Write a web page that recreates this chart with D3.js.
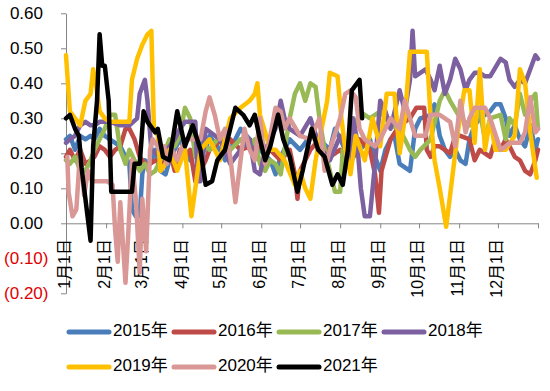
<!DOCTYPE html>
<html>
<head>
<meta charset="utf-8">
<script src="https://cdn.jsdelivr.net/npm/d3@7"></script>
<style>
  body { margin: 0; background: #fff; }
  svg text { font-family: "Liberation Sans", "Noto Sans CJK SC", sans-serif; }
</style>
</head>
<body>
<div id="chart"></div>
<script>
// series names and colours
var years = ["2015年", "2016年", "2017年", "2018年", "2019年", "2020年", "2021年"];
var colors = ["#4A7EBB", "#BE4B48", "#98B954", "#7D60A0", "#FFC000", "#D99795", "#000000"];

// x axis: day of year where each month starts, and its label
var monthDays = [0, 31, 59, 90, 120, 151, 181, 212, 243, 273, 304, 334];
var monthLabels = ["1月1日", "2月1日", "3月1日", "4月1日", "5月1日", "6月1日",
    "7月1日", "8月1日", "9月1日", "10月1日", "11月1日", "12月1日"];
var yTicks = [-0.2, -0.1, 0, 0.1, 0.2, 0.3, 0.4, 0.5, 0.6];

// [day of year, value]
var s2015 = [[0,0.24],[3,0.25],[7,0.21],[11,0.25],[15,0.24],[19,0.25],[22,0.24],[26,0.27],[30,0.25],[34,0.24],
    [42,0.22],[46,0.19],[49,0.17],[51,0.04],[54,0.02],[57,0.02],[59,0.14],[61,0.18],[65,0.17],[69,0.21],
    [73,0.15],[77,0.14],[80,0.18],[84,0.21],[88,0.24],[92,0.21],[96,0.18],[100,0.21],[104,0.24],[108,0.21],
    [111,0.25],[119,0.21],[123,0.18],[127,0.21],[135,0.27],[142,0.24],[150,0.21],[158,0.18],[162,0.14],[166,0.19],
    [173,0.24],[181,0.21],[189,0.25],[196,0.24],[204,0.21],[208,0.27],[212,0.24],[220,0.18],[227,0.21],[235,0.24],
    [239,0.19],[243,0.15],[247,0.21],[251,0.24],[254,0.25],[258,0.17],[262,0.16],[266,0.15],[270,0.27],[274,0.30],
    [282,0.31],[285,0.34],[289,0.25],[293,0.21],[297,0.19],[301,0.21],[305,0.18],[309,0.17],[312,0.24],[316,0.28],
    [320,0.30],[328,0.32],[332,0.34],[336,0.34],[340,0.30],[343,0.25],[347,0.28],[351,0.24],[355,0.22],[359,0.28],
    [363,0.21],[365,0.24]];

var s2016 = [[0,0.19],[3,0.21],[7,0.18],[11,0.21],[15,0.17],[19,0.18],[22,0.19],[26,0.22],[30,0.21],[34,0.19],
    [38,0.21],[42,0.22],[46,0.27],[49,0.27],[53,0.24],[57,0.19],[61,0.17],[65,0.17],[69,0.18],[73,0.17],
    [77,0.19],[80,0.21],[84,0.15],[88,0.21],[92,0.19],[96,0.21],[100,0.12],[104,0.15],[108,0.18],[111,0.21],
    [115,0.22],[119,0.24],[123,0.21],[127,0.24],[135,0.21],[142,0.22],[146,0.21],[150,0.22],[158,0.21],[166,0.18],
    [173,0.21],[177,0.14],[179,0.07],[181,0.15],[189,0.21],[196,0.24],[204,0.19],[212,0.21],[220,0.17],[227,0.24],
    [235,0.21],[239,0.14],[242,0.03],[244,0.15],[251,0.24],[258,0.28],[266,0.30],[271,0.33],[277,0.33],[279,0.21],
    [282,0.19],[285,0.22],[289,0.22],[293,0.21],[297,0.20],[301,0.25],[305,0.25],[312,0.24],[316,0.18],[320,0.21],
    [328,0.19],[332,0.24],[336,0.21],[340,0.24],[343,0.22],[347,0.19],[351,0.18],[355,0.15],[359,0.14],[363,0.18],
    [365,0.21]];

var s2017 = [[0,0.18],[3,0.17],[7,0.19],[11,0.15],[15,0.15],[19,0.18],[22,0.21],[26,0.24],[30,0.27],[34,0.31],
    [38,0.31],[42,0.21],[46,0.17],[49,0.21],[53,0.18],[57,0.15],[61,0.17],[65,0.14],[69,0.15],[73,0.18],
    [77,0.21],[80,0.24],[84,0.22],[88,0.25],[92,0.33],[96,0.30],[100,0.19],[104,0.18],[108,0.22],[111,0.21],
    [119,0.25],[127,0.21],[135,0.24],[142,0.22],[146,0.24],[150,0.17],[154,0.15],[158,0.18],[162,0.17],[166,0.14],
    [169,0.21],[173,0.30],[177,0.37],[181,0.40],[185,0.35],[189,0.40],[193,0.39],[196,0.30],[200,0.21],[204,0.15],
    [208,0.09],[212,0.09],[214,0.21],[220,0.24],[224,0.28],[227,0.32],[235,0.30],[243,0.32],[251,0.28],[258,0.27],
    [266,0.21],[270,0.19],[274,0.21],[282,0.24],[289,0.35],[293,0.38],[297,0.35],[305,0.30],[312,0.28],[320,0.32],
    [324,0.24],[328,0.30],[336,0.31],[340,0.24],[343,0.30],[347,0.28],[351,0.37],[355,0.31],[359,0.35],[363,0.37],
    [365,0.27]];

var s2018 = [[0,0.23],[3,0.24],[7,0.25],[11,0.28],[15,0.29],[19,0.28],[22,0.28],[26,0.29],[34,0.29],[42,0.28],
    [49,0.28],[55,0.30],[57,0.37],[61,0.41],[63,0.35],[66,0.21],[73,0.19],[77,0.21],[80,0.22],[84,0.24],
    [88,0.27],[92,0.29],[100,0.29],[102,0.12],[104,0.12],[108,0.27],[119,0.24],[127,0.17],[135,0.21],[142,0.24],
    [146,0.15],[150,0.14],[154,0.21],[162,0.27],[166,0.35],[169,0.30],[173,0.27],[181,0.25],[189,0.30],[196,0.22],
    [204,0.18],[212,0.25],[216,0.21],[220,0.15],[222,0.30],[225,0.24],[228,0.10],[231,0.02],[235,0.02],[239,0.17],
    [243,0.35],[247,0.32],[251,0.27],[258,0.38],[262,0.32],[266,0.41],[268,0.55],[270,0.42],[278,0.44],[282,0.41],
    [285,0.38],[289,0.45],[293,0.37],[297,0.41],[301,0.47],[305,0.44],[309,0.38],[312,0.41],[316,0.43],[320,0.43],
    [324,0.42],[328,0.42],[336,0.47],[340,0.46],[343,0.41],[347,0.39],[351,0.41],[355,0.40],[359,0.44],[363,0.48],
    [365,0.47]];

var s2019 = [[0,0.48],[3,0.32],[7,0.30],[11,0.28],[15,0.35],[19,0.37],[21,0.44],[23,0.40],[26,0.32],[30,0.30],
    [34,0.29],[49,0.29],[51,0.41],[55,0.47],[59,0.51],[63,0.54],[66,0.55],[68,0.27],[71,0.25],[73,0.15],
    [77,0.17],[80,0.21],[86,0.15],[92,0.21],[97,0.02],[100,0.10],[104,0.21],[111,0.24],[119,0.18],[127,0.30],
    [135,0.33],[142,0.35],[146,0.37],[148,0.40],[150,0.31],[158,0.21],[162,0.21],[169,0.18],[177,0.11],[181,0.15],
    [185,0.10],[189,0.07],[193,0.18],[196,0.24],[202,0.35],[204,0.43],[210,0.42],[213,0.30],[216,0.21],[220,0.14],
    [224,0.25],[231,0.18],[237,0.30],[243,0.22],[248,0.37],[254,0.37],[258,0.20],[262,0.30],[266,0.49],[270,0.49],
    [279,0.49],[282,0.30],[285,0.18],[289,0.10],[294,-0.01],[297,0.08],[303,0.26],[308,0.38],[312,0.38],[316,0.23],
    [320,0.44],[324,0.21],[328,0.30],[332,0.21],[340,0.21],[347,0.25],[351,0.44],[355,0.40],[359,0.26],[364,0.13]];

var s2020 = [[1,0.19],[2,0.09],[5,0.02],[8,0.04],[11,0.21],[14,0.08],[17,0.15],[20,0.12],[26,0.12],[32,0.12],
    [36,0.11],[38,-0.02],[40,-0.11],[42,0.06],[46,-0.17],[48,-0.04],[51,0.18],[54,0.07],[57,-0.14],[59,0.07],
    [62,-0.08],[65,0.21],[67,0.24],[73,0.21],[76,0.22],[78,0.17],[82,0.21],[86,0.18],[92,0.24],[96,0.24],
    [104,0.24],[108,0.32],[111,0.36],[115,0.31],[119,0.24],[123,0.27],[127,0.19],[131,0.06],[135,0.18],[138,0.27],
    [142,0.21],[146,0.18],[150,0.30],[154,0.17],[162,0.33],[166,0.32],[169,0.27],[173,0.30],[181,0.25],[189,0.24],
    [196,0.30],[200,0.15],[204,0.21],[212,0.30],[216,0.37],[220,0.38],[224,0.36],[227,0.27],[231,0.24],[235,0.23],
    [239,0.22],[243,0.24],[251,0.30],[258,0.27],[262,0.35],[266,0.30],[270,0.25],[274,0.25],[278,0.25],[282,0.31],
    [289,0.31],[293,0.30],[297,0.29],[301,0.22],[305,0.35],[309,0.26],[312,0.30],[316,0.33],[324,0.33],[328,0.30],
    [336,0.21],[340,0.22],[343,0.23],[351,0.23],[355,0.26],[359,0.36],[363,0.26],[365,0.27]];

var s2021 = [[0,0.30],[3,0.31],[7,0.27],[10,0.25],[12,0.16],[15,0.07],[19,-0.05],[21,0.22],[24,0.35],[26,0.54],
    [28,0.45],[30,0.45],[33,0.35],[35,0.09],[51,0.09],[53,0.17],[57,0.17],[60,0.32],[63,0.29],[69,0.26],
    [71,0.27],[75,0.19],[80,0.18],[86,0.32],[92,0.22],[98,0.28],[104,0.21],[108,0.11],[113,0.12],[117,0.18],
    [123,0.21],[131,0.33],[137,0.31],[142,0.28],[146,0.31],[150,0.24],[154,0.18],[158,0.22],[164,0.31],[168,0.24],
    [173,0.19],[179,0.09],[183,0.15],[190,0.27],[195,0.21],[200,0.19],[206,0.11],[210,0.14],[214,0.11],[218,0.21],
    [221,0.38],[227,0.41],[229,0.30]];

var seriesData = [s2015, s2016, s2017, s2018, s2019, s2020, s2021];

var width = 550, height = 391;
var svg = d3.select("#chart").append("svg")
    .attr("width", width)
    .attr("height", height);

var x = d3.scaleLinear().domain([0, 365]).range([66, 538]);
var y = d3.scaleLinear().domain([-0.2, 0.6]).range([293.3, 13.3]);

var axisColor = "#868686";

// y axis
var yAxis = d3.axisLeft(y)
    .tickValues(yTicks)
    .tickSize(5)
    .tickSizeOuter(0)
    .tickPadding(18)
    .tickFormat(function(d) {
        var s = d3.format(".2f")(Math.abs(d));
        return d < 0 ? "(" + s + ")" : s;
    });

var gy = svg.append("g")
    .attr("transform", "translate(" + x(0) + ",0)")
    .call(yAxis);
gy.select(".domain").attr("stroke", axisColor);
gy.selectAll(".tick line").attr("stroke", axisColor);
gy.selectAll(".tick text")
    .attr("font-size", 17)
    .attr("fill", function(d) { return d < 0 ? "#E00000" : "#000"; })
    .attr("dx", function(d) { return d < 0 ? 5.5 : 0; });

// x axis at zero
var xAxis = d3.axisBottom(x)
    .tickValues(monthDays.concat([365]))
    .tickSize(5)
    .tickSizeOuter(0)
    .tickFormat("");

var gx = svg.append("g")
    .attr("transform", "translate(0," + y(0) + ")")
    .call(xAxis);
gx.select(".domain").attr("stroke", axisColor);
gx.selectAll(".tick line").attr("stroke", axisColor);

// rotated month labels
svg.append("g").selectAll("text")
    .data(monthDays)
    .enter().append("text")
    .attr("transform", function(d) { return "translate(" + x(d) + ",239) rotate(-90)"; })
    .attr("text-anchor", "end")
    .attr("dominant-baseline", "middle")
    .attr("font-size", 16)
    .attr("fill", "#000")
    .text(function(d, i) { return monthLabels[i]; });

// lines
var line = d3.line()
    .x(function(d) { return x(d[0]); })
    .y(function(d) { return y(d[1]); });

svg.append("g").selectAll("path")
    .data(seriesData)
    .enter().append("path")
    .attr("d", line)
    .attr("fill", "none")
    .attr("stroke", function(d, i) { return colors[i]; })
    .attr("stroke-width", 4.5)
    .attr("stroke-linejoin", "round")
    .attr("stroke-linecap", "round");

// legend
var legend = svg.append("g").selectAll("g")
    .data(years)
    .enter().append("g")
    .attr("transform", function(d, i) {
        return "translate(" + (69 + (i % 4) * 105) + "," + (332 + Math.floor(i / 4) * 35) + ")";
    });

legend.append("line")
    .attr("x1", 0).attr("x2", 40)
    .attr("stroke", function(d, i) { return colors[i]; })
    .attr("stroke-width", 5)
    .attr("stroke-linecap", "round");

legend.append("text")
    .attr("x", 44)
    .attr("dominant-baseline", "middle")
    .attr("font-size", 17)
    .attr("fill", "#000")
    .text(function(d) { return d; });
</script>
</body>
</html>
